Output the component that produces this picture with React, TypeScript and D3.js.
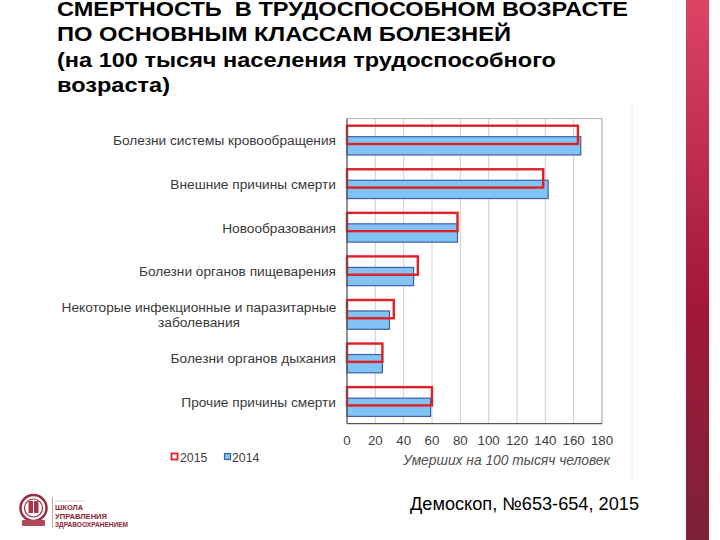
import React from "react";
import * as d3 from "d3";

const categories: string[][] = [
  ["Болезни системы кровообращения"],
  ["Внешние причины смерти"],
  ["Новообразования"],
  ["Болезни органов пищеварения"],
  ["Некоторые инфекционные и паразитарные", "заболевания"],
  ["Болезни органов дыхания"],
  ["Прочие причины смерти"],
];
const values2015 = [163, 138.5, 78, 50, 33, 25, 60];
const values2014 = [165, 142, 78, 47, 30, 25, 59];
const xTicks = [0, 20, 40, 60, 80, 100, 120, 140, 160, 180];
const seriesNames = ["2015", "2014"];
const titleLines = [
  "СМЕРТНОСТЬ  В ТРУДОСПОСОБНОМ ВОЗРАСТЕ",
  "ПО ОСНОВНЫМ КЛАССАМ БОЛЕЗНЕЙ",
  "(на 100 тысяч населения трудоспособного",
  "возраста)",
];
const axisTitle = "Умерших на 100 тысяч человек";
const source = "Демоскоп, №653-654, 2015";
const logoLines = ["ШКОЛА", "УПРАВЛЕНИЯ", "ЗДРАВООХРАНЕНИЕМ"];

export default function App() {
  const W = 720, H = 540;
  const left = 347, right = 602, top = 118.6, bottom = 423.6;
  const x = d3.scaleLinear().domain([0, 180]).range([left, right]);
  const keys = categories.map((_, i) => String(i));
  const y = d3.scaleBand().domain(keys).range([top, bottom]);
  const bw = y.bandwidth();
  const barH = bw * 0.42;
  const redOff = bw * 0.163;
  const blueOff = redOff + bw * 0.252;

  const titleLens = [571, 454, 499, 113];
  const titleBase = [15.5, 40.5, 66.5, 91.5];
  const logoLens = [28, 52, 73];
  const font = "'Liberation Sans', Arial, sans-serif";

  return (
    <svg width={W} height={H} style={{ position: "absolute", left: 0, top: 0, background: "#fff" }} fontFamily={font}>
      <defs>
        <linearGradient id="sideBar" x1="0" y1="0" x2="0" y2="1">
          <stop offset="0" stopColor="#dc4464" />
          <stop offset="0.55" stopColor="#a41838" />
          <stop offset="1" stopColor="#7c2236" />
        </linearGradient>
      </defs>
      <rect x={0} y={0} width={W} height={H} fill="#fff" />
      <rect x={686} y={0} width={23} height={H} fill="url(#sideBar)" />

      {titleLines.map((t, i) => (
        <text key={i} x={57} y={titleBase[i]} fontSize={21} fontWeight="bold" fill="#000"
          textLength={titleLens[i]} lengthAdjust="spacingAndGlyphs" style={{ whiteSpace: "pre" }}>{t}</text>
      ))}

      {/* chart image border */}
      <line x1={632} x2={632} y1={104} y2={482} stroke="#eeeeee" strokeWidth={1} />

      {/* gridlines */}
      {xTicks.slice(1).map((t) => (
        <line key={t} x1={x(t)} x2={x(t)} y1={top} y2={bottom} stroke={t === 180 ? "#9a9a9a" : "#cfcfcf"} strokeWidth={1} />
      ))}
      <line x1={left} x2={right} y1={top} y2={top} stroke="#b0b0b0" strokeWidth={1} />

      {/* bars */}
      {keys.map((k, i) => (
        <g key={k}>
          <rect x={x(0)} y={(y(k) as number) + blueOff} width={x(values2014[i]) - x(0)} height={barH}
            fill="#82c3f6" stroke="#3f5fa6" strokeWidth={1.2} />
          <rect x={x(0)} y={(y(k) as number) + redOff} width={x(values2015[i]) - x(0)} height={barH}
            fill="none" stroke="#e01f26" strokeWidth={2.4} />
        </g>
      ))}

      {/* axes */}
      <line x1={left} x2={left} y1={top} y2={bottom} stroke="#555" strokeWidth={1.3} />
      <line x1={left} x2={right} y1={bottom} y2={bottom} stroke="#555" strokeWidth={1.3} />

      {xTicks.map((t) => (
        <text key={t} x={x(t)} y={445} fontSize={13.3} fill="#404040" textAnchor="middle">{t}</text>
      ))}
      <text x={506.5} y={465} fontSize={13.8} fontStyle="italic" fill="#505050" textAnchor="middle">{axisTitle}</text>

      {/* category labels */}
      {keys.map((k, i) => {
        const lines = categories[i];
        const cy = (y(k) as number) + bw / 2;
        if (lines.length === 1) {
          return (
            <text key={k} x={336} y={cy + 5} fontSize={13.7} fill="#3a3a3a" textAnchor="end">{lines[0]}</text>
          );
        }
        return (
          <g key={k}>
            {lines.map((l, j) => (
              <text key={j} x={199} y={cy - 7 + j * 15.5 + 4} fontSize={13.7} fill="#3a3a3a" textAnchor="middle">{l}</text>
            ))}
          </g>
        );
      })}

      {/* legend */}
      <rect x={171.5} y={453.5} width={6} height={6} fill="#fff" stroke="#e01f26" strokeWidth={1.8} />
      <text x={180} y={461.5} fontSize={12.3} fill="#404040">{seriesNames[0]}</text>
      <rect x={224.5} y={453.5} width={6} height={6} fill="#82c3f6" stroke="#3f5fa6" strokeWidth={1.2} />
      <text x={232} y={461.5} fontSize={12.3} fill="#404040">{seriesNames[1]}</text>

      {/* source */}
      <text x={410} y={510} fontSize={18} fill="#000" textLength={229} lengthAdjust="spacingAndGlyphs">{source}</text>

      {/* logo */}
      <g>
        <circle cx={33.5} cy={508} r={13} fill="#fff" stroke="#9b2a3c" strokeWidth={2.5} />
        <circle cx={33.5} cy={508} r={9} fill="#fff" stroke="#9b2a3c" strokeWidth={1.2} />
        <rect x={28.5} y={501} width={10} height={12} fill="#a63547" />
        <line x1={33.5} x2={33.5} y1={501} y2={513} stroke="#fff" strokeWidth={1} />
        <rect x={22} y={520} width={23} height={6} rx={1} fill="#b04a58" />
        <line x1={52.5} x2={52.5} y1={497} y2={528} stroke="#999" strokeWidth={0.8} />
        <line x1={55} x2={85} y1={501} y2={501} stroke="#bbb" strokeWidth={0.6} />
        {logoLines.map((l, i) => (
          <text key={i} x={55} y={510 + i * 8.5} fontSize={7.2} fontWeight="bold" fill="#8e2438"
            textLength={logoLens[i]} lengthAdjust="spacingAndGlyphs">{l}</text>
        ))}
      </g>
    </svg>
  );
}
